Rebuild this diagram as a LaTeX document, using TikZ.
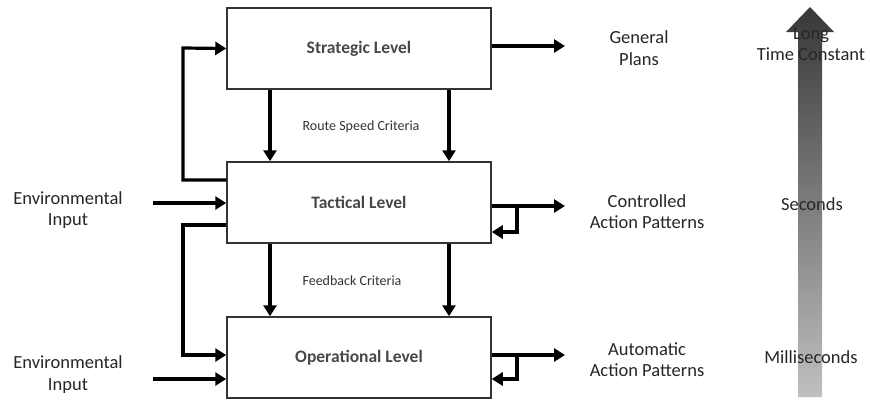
\documentclass[tikz,border=0pt]{standalone}
\usepackage{fontspec}
\setmainfont{Carlito}
\usetikzlibrary{arrows.meta,calc}
\begin{document}
\begin{tikzpicture}[x=1pt,y=-1pt,
  box/.style={draw=black!80,line width=1.5pt,minimum width=264pt,minimum height=81pt,inner sep=0pt,
    font=\fontsize{17.5}{20}\selectfont\bfseries,text=black!72},
  arr/.style={line width=3.2pt,-{Triangle[length=11pt,width=13pt]}},
  lbl/.style={align=center,font=\fontsize{18.5}{21.5}\selectfont,text=black!85},
  small/.style={font=\fontsize{14}{16}\selectfont,text=black!80}]
\useasboundingbox (0,0) rectangle (870,400);
% gradient arrow
\shade[top color=black!78,bottom color=black!25,draw=none]
  (798,397) -- (798,32) -- (786,32) -- (810,7) -- (834,32) -- (822,32) -- (822,397) -- cycle;
% boxes
\node[box] (S) at (359,48.5) {Strategic Level};
\node[box] (T) at (359,202.5) {Tactical Level};
\node[box] (O) at (359,357.5) {Operational Level};
% down arrows
\draw[arr] ([xshift=-89pt]S.south) -- ([xshift=-89pt]T.north);
\draw[arr] ([xshift=90pt]S.south) -- ([xshift=90pt]T.north);
\draw[arr] ([xshift=-89pt]T.south) -- ([xshift=-89pt]O.north);
\draw[arr] ([xshift=90pt]T.south) -- ([xshift=90pt]O.north);
\node[small] (rsc) at (361,127) {Route Speed Criteria};
\node[small] (fbc) at (352,281) {Feedback Criteria};
% left loops
\draw[arr] ([yshift=22.5pt]T.west) -| (183,48) -- (S.west);
\draw[arr] ([yshift=-22.5pt]T.west) -| (183,355) -- ([yshift=2.5pt]O.west);
% environmental inputs
\coordinate (e1) at (153,203);
\coordinate (e2) at (153,379);
\draw[arr] (e1) -- (e1 -| T.west);
\draw[arr] (e2) -- (e2 -| O.west);
\node[lbl] (env1) at (68,210) {Environmental\\Input};
\node[lbl] (env2) at (68,374.5) {Environmental\\Input};
% outputs
\coordinate (so) at (565,46);
\coordinate (to) at (565,206);
\coordinate (oo) at (565,355);
\coordinate (tl) at (517,206);
\coordinate (ol) at (517,355);
\draw[arr] (so -| S.east) -- (so);
\draw[arr] (to -| T.east) -- (to);
\draw[arr] (oo -| O.east) -- (oo);
\draw[arr] (tl) |- (T.east |- 0,232);
\draw[arr] (ol) |- (O.east |- 0,379);
\node[lbl] (gp) at (639,48) {General\\Plans};
\node[lbl] (cap) at (647,211.5) {Controlled\\Action Patterns};
\node[lbl] (aap) at (647,359.5) {Automatic\\Action Patterns};
% time labels
\node[lbl] (ltc) at (811,44) {Long\\Time Constant};
\node[lbl] (sec) at (812,204) {Seconds};
\node[lbl] (ms) at (811,357) {Milliseconds};
\end{tikzpicture}
\end{document}
